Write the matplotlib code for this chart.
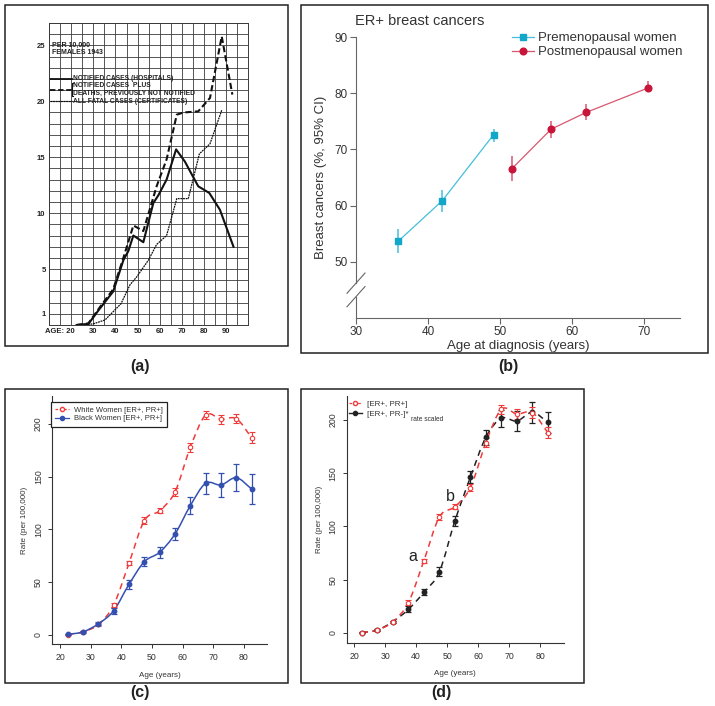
import numpy as np
import matplotlib
matplotlib.use('Agg')
from matplotlib import pyplot as plt
from matplotlib.path import Path
from matplotlib.patches import PathPatch, Rectangle
from matplotlib.lines import Line2D

plt.rcParams['font.family'] = ['Liberation Sans', 'DejaVu Sans']

W, H = 715, 706

# (a) incidence per 10,000 females, 1943
a_hosp_age = [22.5, 27.8, 32.3, 39.0, 43.6, 45.8, 48.1, 52.6, 57.1, 59.4, 63.1, 67.4, 71.4, 74.1, 77.4, 82.4, 87.2, 93.3]
a_hosp_val = [0, 0.1, 1.3, 3.0, 5.8, 6.6, 8.0, 7.4, 10.9, 11.6, 13.0, 15.7, 14.6, 13.6, 12.4, 11.8, 10.3, 7.0]
a_plus_age = [22.5, 27.8, 33.0, 39.0, 43.6, 48.1, 52.6, 58.6, 63.1, 67.7, 70.7, 77.4, 82.7, 88.0, 92.8]
a_plus_val = [0, 0.15, 1.6, 3.2, 6.0, 8.9, 8.4, 12.4, 14.8, 18.8, 19.0, 19.1, 20.3, 25.8, 20.6]
a_fatal_age = [24.0, 30.0, 35.3, 42.5, 46.6, 49.6, 54.9, 58.6, 63.1, 67.7, 72.9, 77.9, 82.7, 88.0]
a_fatal_val = [0, 0.1, 0.45, 1.9, 3.6, 4.3, 5.8, 7.2, 8.0, 11.3, 11.3, 15.3, 16.2, 19.2]
a_ytick_labels = {1: '1', 5: '5', 10: '10', 15: '15', 20: '20', 25: '25'}
a_xtick_labels = {30: '30', 40: '40', 50: '50', 60: '60', 70: '70', 80: '80', 90: '90'}

# (b) ER+ share by age at diagnosis
pre_age = [35.9, 42.0, 49.1]
pre_val = [53.7, 60.9, 72.6]
pre_lo = [51.6, 58.9, 71.4]
pre_hi = [55.8, 62.8, 73.7]
post_age = [51.6, 57.1, 62.0, 70.5]
post_val = [66.5, 73.6, 76.6, 80.9]
post_lo = [64.3, 72.0, 75.3, 80.2]
post_hi = [68.8, 75.1, 78.0, 82.2]

# (c) and (d) rates per 100,000
age5 = [22.5, 27.5, 32.5, 37.5, 42.5, 47.5, 52.5, 57.5, 62.5, 67.5, 72.5, 77.5, 82.5]
c_white = [0.5, 3.0, 10.0, 28.4, 68.0, 108.4, 117.8, 135.5, 177.9, 208.5, 204.4, 205.0, 187.0]
c_white_err = [0.3, 0.6, 1.0, 2.0, 2.0, 3.0, 2.5, 3.5, 4.0, 4.0, 4.0, 4.0, 5.0]
c_black = [0.6, 3.0, 10.6, 23.0, 48.0, 69.5, 78.4, 95.7, 122.6, 143.8, 142.2, 149.1, 138.4]
c_black_err = [0.5, 1.0, 1.5, 3.0, 4.0, 4.0, 5.0, 5.8, 8.2, 10.0, 11.0, 12.5, 14.0]
d_pos = [0.3, 2.8, 10.6, 28.5, 67.9, 109.0, 118.6, 136.4, 178.7, 210.0, 205.6, 206.9, 188.0]
d_pos_err = [0.3, 0.6, 1.0, 2.2, 2.0, 3.0, 2.5, 3.5, 4.0, 4.5, 4.5, 5.0, 5.0]
d_neg = [0.3, 2.8, 10.6, 22.2, 38.2, 57.6, 105.2, 146.2, 183.8, 201.6, 199.0, 207.2, 197.8]
d_neg_err = [0.3, 0.5, 1.0, 2.7, 2.8, 4.0, 5.0, 5.8, 7.0, 7.8, 9.1, 9.7, 10.0]

RED = '#f03a3a'
BLUE = '#3350b0'
CYAN = '#12a6c8'
CYAN_L = '#45bfdb'
CRIM = '#c8153a'
CRIM_L = '#d9566f'


def rect(x0, y0, x1, y1):
	return [x0 / W, 1 - y1 / H, (x1 - x0) / W, (y1 - y0) / H]


def fxy(x, y):
	return x / W, 1 - y / H


def smooth_path(x, y):
	# cubic bezier through the points (catmull-rom tangents)
	pts = np.column_stack([np.asarray(x, float), np.asarray(y, float)])
	tan = np.zeros_like(pts)
	tan[1:-1] = (pts[2:] - pts[:-2]) / 2
	tan[0] = pts[1] - pts[0]
	tan[-1] = pts[-1] - pts[-2]
	verts = [pts[0]]
	codes = [Path.MOVETO]
	for i in range(len(pts) - 1):
		verts += [pts[i] + tan[i] / 3, pts[i + 1] - tan[i + 1] / 3, pts[i + 1]]
		codes += [Path.CURVE4] * 3
	return Path(verts, codes)


def r_style(ax, xlim, ylim):
	ax.set_xlim(*xlim)
	ax.set_ylim(*ylim)
	for s in ['top', 'right']:
		ax.spines[s].set_visible(False)
	for s in ['left', 'bottom']:
		ax.spines[s].set_linewidth(0.8)
		ax.spines[s].set_color('#333333')
	ax.set_xticks([20, 30, 40, 50, 60, 70, 80])
	ax.set_yticks([0, 50, 100, 150, 200])
	ax.tick_params(length=3, width=0.7, colors='#333333', labelsize=6.3, pad=3.5)
	for lab in ax.get_yticklabels():
		lab.set_rotation(90)
		lab.set_va('center')
	ax.set_xlabel('Age (years)', fontsize=5.8, color='#333333', labelpad=7)
	ax.set_ylabel('Rate (per 100,000)', fontsize=5.8, color='#333333', labelpad=4)


fig = plt.figure(figsize=(W / 100, H / 100), dpi=100)

# panel frames and letters
for (x0, y0, x1, y1) in [(5, 5, 288, 346), (301, 5, 708, 353), (5, 389, 288, 683), (301, 389, 584, 683)]:
	fig.add_artist(Rectangle(fxy(x0, y1), (x1 - x0) / W, (y1 - y0) / H, transform=fig.transFigure,
		fill=False, edgecolor='#222222', lw=1.1))
for lab, (x, y) in zip(['(a)', '(b)', '(c)', '(d)'], [(140, 366), (508, 366), (140, 693), (441, 693)]):
	fig.text(*fxy(x, y), lab, ha='center', va='center', fontsize=11.5, fontweight='bold', color='#222222')

# ---- (a)
ax = fig.add_axes(rect(49, 23, 248.3, 325))
ax.set_xlim(10, 100)
ax.set_ylim(0, 27)
ax.set_xticks(np.arange(10, 101, 5))
ax.set_yticks(np.arange(0, 28, 1))
ax.set_xticklabels([a_xtick_labels.get(int(t), '') for t in np.arange(10, 101, 5)])
ax.set_yticklabels([a_ytick_labels.get(int(t), '') for t in np.arange(0, 28, 1)])
ax.tick_params(length=0, labelsize=5.5, pad=2.5, colors='#222222')
for lab in ax.get_xticklabels() + ax.get_yticklabels():
	lab.set_fontweight('bold')
ax.grid(True, color='#3a3a3a', lw=0.6)
for s in ax.spines.values():
	s.set_linewidth(0.7)
	s.set_color('#3a3a3a')
ax.set_axisbelow(True)
ax.plot(a_hosp_age, a_hosp_val, color='#111111', lw=1.5)
ax.plot(a_plus_age, a_plus_val, color='#111111', lw=1.5, linestyle=(0, (3, 1.5)))
ax.plot(a_fatal_age, a_fatal_val, color='#111111', lw=0.9, linestyle=(0, (1.5, 0.6)))
ax.annotate('AGE: 20', xy=(21.8, 0), xycoords=('data', 'axes fraction'), xytext=(0, -2.5),
	textcoords='offset points', ha='right', va='top', fontsize=5.5, fontweight='bold', color='#222222')
ax.text(11.4, 25.0, 'PER 10,000', fontsize=5, fontweight='bold', va='center', color='#222222')
ax.text(11.4, 24.35, 'FEMALES 1943', fontsize=5, fontweight='bold', va='center', color='#222222')
leg_rows = ['NOTIFIED CASES (HOSPITALS)', 'NOTIFIED CASES  PLUS', 'DEATHS, PREVIOUSLY NOT NOTIFIED',
	'ALL FATAL CASES (CERTIFICATES)']
for txt, yy in zip(leg_rows, [22.0, 21.4, 20.7, 20.0]):
	ax.text(21.0, yy, txt, fontsize=4.8, fontweight='bold', va='center', color='#222222')
ax.plot([10.6, 20.3], [22.0, 22.0], color='#111111', lw=1.3)
ax.plot([10.6, 20.3], [21.05, 21.05], color='#111111', lw=1.3, linestyle=(0, (3, 1.5)))
ax.plot([10.6, 20.3], [20.0, 20.0], color='#111111', lw=0.9, linestyle=(0, (1.5, 0.6)))
ax.plot([20.9, 20.5, 20.5, 20.9], [21.65, 21.65, 20.45, 20.45], color='#111111', lw=0.8)

# ---- (b)
ax = fig.add_axes(rect(356, 37, 680, 318))
ax.set_xlim(30, 75)
ax.set_ylim(40, 90)
for s in ['top', 'right', 'left']:
	ax.spines[s].set_visible(False)
ax.spines['bottom'].set_color('#666666')
ax.spines['bottom'].set_linewidth(0.8)
brk_hi, brk_lo = 46.2, 43.8
ax.plot([30, 30], [90, brk_hi], color='#666666', lw=0.8, clip_on=False)
ax.plot([30, 30], [brk_lo, 40], color='#666666', lw=0.8, clip_on=False)
for yb in [brk_hi, brk_lo]:
	ax.plot([30 - 1.25, 30 + 1.25], [yb - 1.8, yb + 1.8], color='#666666', lw=0.8, clip_on=False)
ax.set_xticks([30, 40, 50, 60, 70])
ax.set_yticks([50, 60, 70, 80, 90])
ax.tick_params(length=4, width=0.8, colors='#666666', labelsize=8.5, labelcolor='#333333', pad=2)
ax.vlines(pre_age, pre_lo, pre_hi, color=CYAN_L, lw=1.1)
ax.vlines(post_age, post_lo, post_hi, color=CRIM_L, lw=1.1)
ax.plot(pre_age, pre_val, color=CYAN_L, lw=0.9, marker='s', ms=4.6, mfc=CYAN, mec=CYAN)
ax.plot(post_age, post_val, color=CRIM_L, lw=0.9, marker='o', ms=4.8, mfc=CRIM, mec=CRIM)
ax.set_xlabel('Age at diagnosis (years)', fontsize=9.5, color='#333333', labelpad=1)
ax.set_ylabel('Breast cancers (%, 95% CI)', fontsize=9.5, color='#333333', labelpad=5)
fig.text(*fxy(355, 21), 'ER+ breast cancers', ha='left', va='center', fontsize=10.5, color='#333333')
hnd = [Line2D([], [], color=CYAN_L, lw=0.9, marker='s', ms=4.6, mfc=CYAN, mec=CYAN),
	Line2D([], [], color=CRIM_L, lw=0.9, marker='o', ms=4.8, mfc=CRIM, mec=CRIM)]
ax.legend(hnd, ['Premenopausal women', 'Postmenopausal women'], loc='upper left',
	bbox_to_anchor=fxy(512, 32), bbox_transform=fig.transFigure, frameon=False, fontsize=9.5,
	handlelength=1.7, handletextpad=0.25, borderpad=0, borderaxespad=0, labelspacing=0.15,
	labelcolor='#333333')

# ---- (c)
ax = fig.add_axes(rect(52, 396, 267, 644))
r_style(ax, (17.4, 87.5), (-8.5, 226.5))
ax.add_patch(PathPatch(smooth_path(age5, c_white), fill=False, edgecolor=RED, lw=1.1, linestyle=(0, (4, 3))))
ax.add_patch(PathPatch(smooth_path(age5, c_black), fill=False, edgecolor=BLUE, lw=1.1))
ax.errorbar(age5, c_white, yerr=c_white_err, fmt='o', ms=3.2, mfc='white', mec=RED, mew=0.8,
	ecolor=RED, elinewidth=0.8, capsize=2.2, capthick=0.8)
ax.errorbar(age5, c_black, yerr=c_black_err, fmt='o', ms=3.2, mfc=BLUE, mec=BLUE,
	ecolor=BLUE, elinewidth=0.9, capsize=2.2, capthick=0.9)
hnd = [Line2D([], [], color=RED, lw=0.9, linestyle=(0, (2, 1.5)), marker='o', ms=3, mfc='white', mec=RED),
	Line2D([], [], color=BLUE, lw=0.9, marker='o', ms=3, mfc=BLUE, mec=BLUE)]
leg = ax.legend(hnd, ['White Women [ER+, PR+]', 'Black Women [ER+, PR+]'], loc='upper left',
	bbox_to_anchor=fxy(51, 402), bbox_transform=fig.transFigure, fontsize=5.5, fancybox=False,
	edgecolor='#222222', framealpha=1, handlelength=1.8, handletextpad=0.7, borderpad=0.55,
	borderaxespad=0, labelspacing=0.2, labelcolor='#333333')
leg.get_frame().set_linewidth(0.9)

# ---- (d)
ax = fig.add_axes(rect(346.7, 396, 564, 642.7))
r_style(ax, (17.6, 87.7), (-9.1, 222.5))
ax.add_patch(PathPatch(smooth_path(age5, d_neg), fill=False, edgecolor='#222222', lw=1.1, linestyle=(0, (4, 3))))
ax.add_patch(PathPatch(smooth_path(age5, d_pos), fill=False, edgecolor=RED, lw=1.1, linestyle=(0, (4, 3))))
ax.errorbar(age5, d_neg, yerr=d_neg_err, fmt='o', ms=3.2, mfc='#222222', mec='#222222',
	ecolor='#222222', elinewidth=0.9, capsize=2.2, capthick=0.9)
ax.errorbar(age5, d_pos, yerr=d_pos_err, fmt='o', ms=3.2, mfc='white', mec=RED, mew=0.8,
	ecolor=RED, elinewidth=0.8, capsize=2.2, capthick=0.8)
ax.text(39.0, 71.4, 'a', fontsize=11.5, ha='center', va='center', color='#222222')
ax.text(51.0, 127.7, 'b', fontsize=11.5, ha='center', va='center', color='#222222')
hnd = [Line2D([], [], color=RED, lw=0.9, linestyle=(0, (2, 1.5)), marker='o', ms=3, mfc='white', mec=RED),
	Line2D([], [], color='#222222', lw=1.0, marker='o', ms=3, mfc='#222222', mec='#222222')]
ax.legend(hnd, ['[ER+, PR+]', '[ER+, PR-]*'], loc='upper left',
	bbox_to_anchor=fxy(349, 400), bbox_transform=fig.transFigure, fontsize=5.8, frameon=False,
	handlelength=1.6, handletextpad=0.6, borderpad=0, borderaxespad=0, labelspacing=0.3,
	labelcolor='#333333')
fig.text(*fxy(411, 419.5), 'rate scaled', ha='left', va='center', fontsize=4.8, color='#333333')

fig.savefig('out.png', dpi=100)
